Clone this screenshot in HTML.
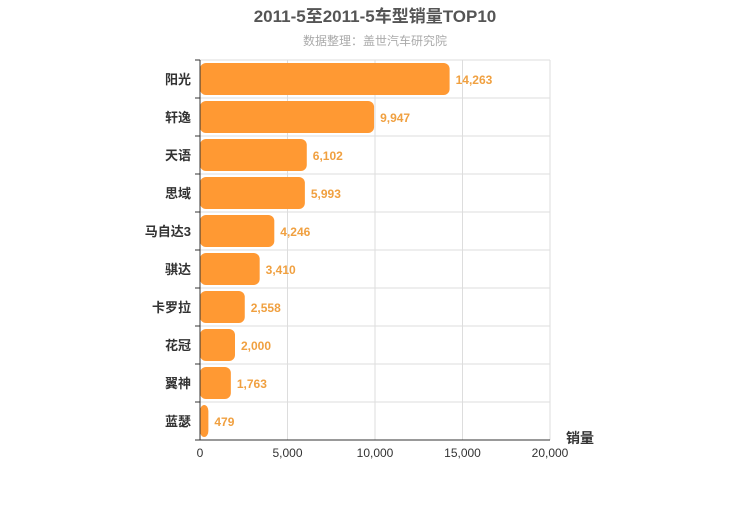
<!DOCTYPE html>
<html><head><meta charset="utf-8"><style>
body{margin:0;background:#fff;}
svg text{font-family:"Liberation Sans","Noto Sans CJK SC",sans-serif;}
</style></head><body>
<svg id="chart" width="750" height="500" xmlns="http://www.w3.org/2000/svg">
<text x="375" y="22" text-anchor="middle" font-size="17" font-weight="bold" fill="#555">2011-5至2011-5车型销量TOP10</text>
<text x="375" y="45" text-anchor="middle" font-size="12" fill="#aaa">数据整理：盖世汽车研究院</text>
<g id="grid"></g><g id="bars"></g><g id="axes"></g>
<text x="580" y="443" text-anchor="middle" font-size="14" font-weight="bold" fill="#333">销量</text>
</svg>
<script>
const categories=["阳光","轩逸","天语","思域","马自达3","骐达","卡罗拉","花冠","翼神","蓝瑟"];
const salesValues=[14263,9947,6102,5993,4246,3410,2558,2000,1763,479];
const xTicks=[0,5000,10000,15000,20000];
const ns="http://www.w3.org/2000/svg";
const L=200,R=550,T=60,B=440,xMax=20000;
const rowH=(B-T)/categories.length;
const xs=v=>L+(v/xMax)*(R-L);
function mk(tag,attrs,parent,txt){const e=document.createElementNS(ns,tag);for(const k in attrs)e.setAttribute(k,attrs[k]);if(txt!==undefined)e.textContent=txt;document.getElementById(parent).appendChild(e);return e;}
const fmt=v=>v.toLocaleString("en-US");
xTicks.forEach((t,i)=>{
 const g=mk("line",{x1:xs(t),x2:xs(t),y1:T,y2:B,stroke:"#ddd"},"grid");
 
 
 const lb=mk("text",{x:xs(t),y:B+17,"text-anchor":"middle","font-size":12,fill:"#333"},"axes",fmt(t));
 
 
});
for(let i=0;i<=categories.length;i++){
 const y=T+i*rowH;
 const g=mk("line",{x1:L,x2:R,y1:y,y2:y,stroke:"#ddd"},"grid");
 
 
 const tk=mk("line",{x1:L-5,x2:L,y1:y,y2:y,stroke:"#333"},"axes");
 
 
}
categories.forEach((c,i)=>{
 const yc=T+i*rowH+rowH/2;
 const b=mk("rect",{x:L,y:yc-16,width:Math.max(0,xs(salesValues[i])-L),height:32,rx:6,ry:6,fill:"#ff9933"},"bars");
 
 
 const v=mk("text",{x:xs(salesValues[i])+6,y:yc+5,"font-size":12,"font-weight":"bold",fill:"#f0a040"},"bars",fmt(salesValues[i]));
 
 
 const cl=mk("text",{x:L-9,y:yc+5,"text-anchor":"end","font-size":13,"font-weight":"bold",fill:"#333"},"axes",c);
 
 
});
const ya=mk("line",{x1:L,x2:L,y1:T,y2:B,stroke:"#333"},"axes");


const xa=mk("line",{x1:L,x2:R,y1:B,y2:B,stroke:"#333"},"axes");


</script>
</body></html>
